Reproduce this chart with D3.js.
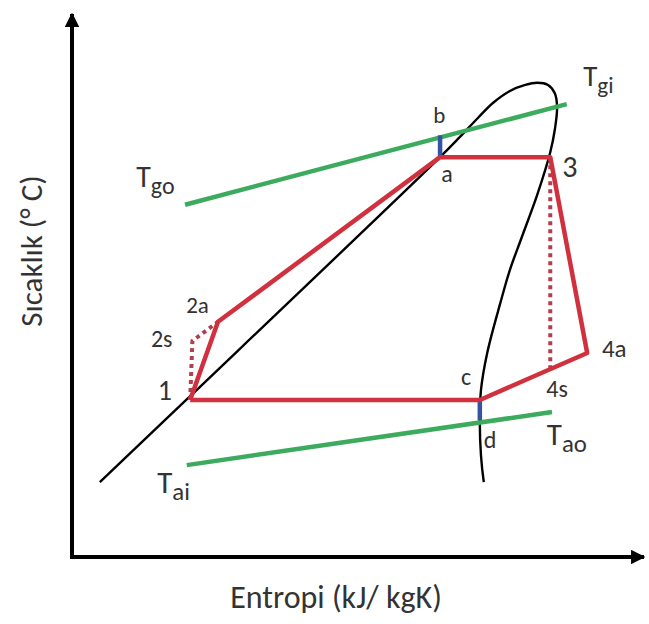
<!DOCTYPE html>
<html><head><meta charset="utf-8">
<script src="https://cdn.jsdelivr.net/npm/d3@7"></script>
<style>
html,body{margin:0;padding:0;background:#fff;}
svg{display:block;}
text{font-family:Carlito,Lato,"Open Sans",sans-serif;fill:#333;}
</style></head>
<body>
<script>
// Abstract T-s diagram units (entropy 0-10, temperature 0-10)
const saturationCurveS = [0.49,2.08,6.48,6.83,7.15,7.41,7.71,7.98,8.19,8.38,8.50,8.54,8.50,8.42,8.19,7.92,7.71,7.54,7.31,7.20,7.18,7.20,7.25];
const saturationCurveT = [1.37,2.94,7.31,7.68,8.03,8.30,8.52,8.63,8.67,8.63,8.48,8.23,7.81,7.40,6.62,5.85,5.25,4.64,3.73,3.05,2.45,1.86,1.37];

const pointNames = ["1","2s","2a","a","b","3","4s","4a","c","d"];
const pointS     = [2.08,2.12,2.57,6.48,6.48,8.42,8.42,9.07,7.18,7.18];
const pointT     = [2.87,3.95,4.30,7.31,7.71,7.31,3.46,3.73,2.87,2.50];

const cycleActual = ["1","2a","a","3","4a","c","1"];
const compressionIsentropic = ["1","2s","2a"];
const expansionIsentropic = ["3","4s"];
const pinchHot = ["a","b"];
const pinchCold = ["c","d"];

const gasLineS = [1.99,8.71];   // Tgo -> Tgi
const gasLineT = [6.44,8.28];
const airLineS = [2.02,8.45];   // Tai -> Tao
const airLineT = [1.68,2.65];

const labelText = ["T|gi","b","a","3","T|go","2a","2s","1","c","4s","4a","d","T|ao","T|ai"];
const labelS    = [9.00,6.36,6.50,8.63,1.13,2.01,1.39,1.51,6.85,8.35,9.33,7.25,8.36,1.50];
const labelT    = [8.61,7.93,6.86,6.95,6.76,4.46,3.84,2.87,3.14,2.93,3.66,1.99,2.05,1.17];
const labelSize = [29,23,24,30,30,23,24,28,24,24,25,24,31,31];

const xTitle = "Entropi (kJ/ kgK)";
const yTitle = "Sıcaklık (° C)";

const W = 649, H = 624;
const x = d3.scaleLinear().domain([0,10]).range([72,640]);
const y = d3.scaleLinear().domain([0,10]).range([557,10]);

const svg = d3.select("body").append("svg").attr("width",W).attr("height",H);
const defs = svg.append("defs");
defs.append("marker").attr("id","arr").attr("viewBox","0 0 10 10")
  .attr("refX",9).attr("refY",5).attr("markerWidth",3.6).attr("markerHeight",3.6)
  .attr("markerUnits","strokeWidth").attr("orient","auto")
  .append("path").attr("d","M0,0 L10,5 L0,10 Z").attr("fill","#000");

const pt = n => { const i = pointNames.indexOf(n); return [x(pointS[i]), y(pointT[i])]; };
const line = d3.line();

// axes
svg.append("line").attr("x1",x(0)).attr("y1",y(0)+2).attr("x2",x(0)).attr("y2",y(10)+4)
  .attr("stroke","#000").attr("stroke-width",4).attr("marker-end","url(#arr)");
svg.append("line").attr("x1",x(0)-2).attr("y1",y(0)).attr("x2",x(10)+4).attr("y2",y(0))
  .attr("stroke","#000").attr("stroke-width",4).attr("marker-end","url(#arr)");

// saturation dome
const satPts = saturationCurveS.map((s,i)=>[x(s), y(saturationCurveT[i])]);
svg.append("path").attr("d", d3.line().curve(d3.curveCatmullRom.alpha(0.5))(satPts))
  .attr("fill","none").attr("stroke","#000").attr("stroke-width",2.4);

// gas and air lines
const green = "#3cab5e";
svg.append("path").attr("d", line(gasLineS.map((s,i)=>[x(s),y(gasLineT[i])])))
  .attr("stroke",green).attr("stroke-width",4.5).attr("fill","none");
svg.append("path").attr("d", line(airLineS.map((s,i)=>[x(s),y(airLineT[i])])))
  .attr("stroke",green).attr("stroke-width",4.5).attr("fill","none");

// isentropic dotted
const dotted = "#b0404e";
[compressionIsentropic, expansionIsentropic].forEach(seq=>{
  svg.append("path").attr("d", line(seq.map(pt))).attr("fill","none")
    .attr("stroke",dotted).attr("stroke-width",4).attr("stroke-dasharray","4 4");
});

// pinch lines
const blue = "#3552a3";
[pinchHot, pinchCold].forEach(seq=>{
  svg.append("path").attr("d", line(seq.map(pt))).attr("fill","none")
    .attr("stroke",blue).attr("stroke-width",4.5);
});

// actual cycle
svg.append("path").attr("d", line(cycleActual.map(pt))).attr("fill","none")
  .attr("stroke","#d1313f").attr("stroke-width",4.5).attr("stroke-linejoin","round");

// labels
labelText.forEach((t,i)=>{
  const txt = svg.append("text").attr("x",x(labelS[i])).attr("y",y(labelT[i]))
    .attr("font-size",labelSize[i]);
  if (t.includes("|")) {
    const [main, sub] = t.split("|");
    txt.append("tspan").text(main);
    txt.append("tspan").attr("dy",7).attr("font-size",labelSize[i]*0.8).text(sub);
  } else txt.text(t);
});

// titles
svg.append("text").attr("x",336).attr("y",608).attr("text-anchor","middle")
  .attr("font-size",32).text(xTitle);
svg.append("text").attr("transform","translate(42,251) rotate(-90)").attr("text-anchor","middle")
  .attr("font-size",31).text(yTitle);
</script>
</body></html>
